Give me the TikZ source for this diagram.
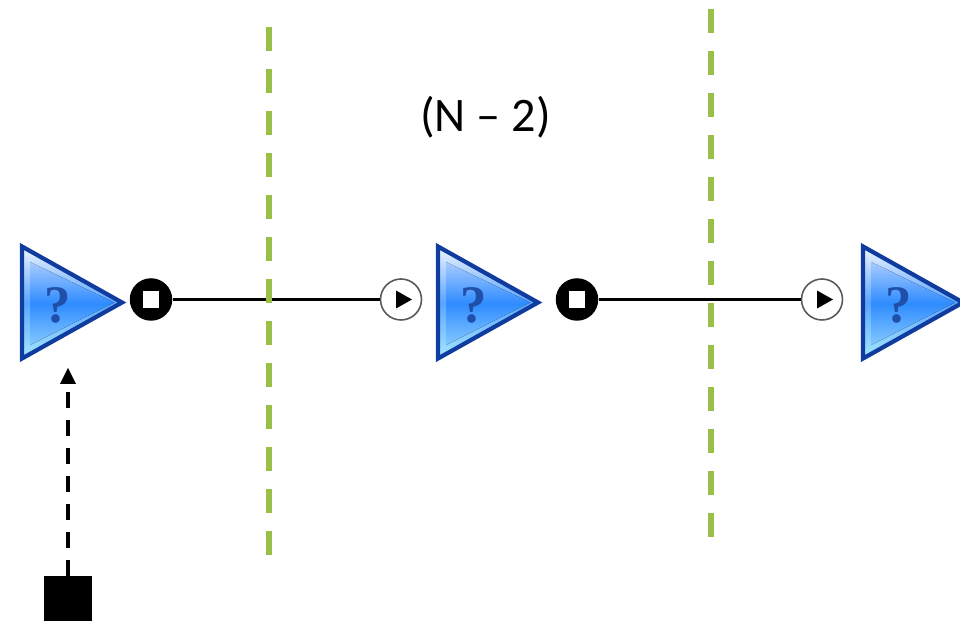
\documentclass[tikz,border=0pt]{standalone}
\usepackage{fontspec}
\setmainfont{Carlito}
\newfontfamily\qfont{Liberation Serif}
\usetikzlibrary{calc}
\definecolor{triedge}{HTML}{0F3C9E}
\definecolor{bandtop}{HTML}{F0F5FF}
\definecolor{bandmid}{HTML}{5AA5FF}
\definecolor{bandbottom}{HTML}{A5E8FF}
\definecolor{tritop}{HTML}{A8CBFF}
\definecolor{trimid}{HTML}{2F8CFF}
\definecolor{tribottom}{HTML}{85C8FF}
\definecolor{qmark}{HTML}{1F4FA8}
\definecolor{barrier}{HTML}{9BC04A}
\tikzset{
	triout/.style={draw=triedge,line width=2.4pt,line join=miter,top color=bandtop,bottom color=bandbottom,middle color=bandmid},
	triin/.style={top color=tritop,bottom color=tribottom,middle color=trimid},
	qlabel/.style={inner sep=0pt,text=qmark,font=\qfont\bfseries\fontsize{30pt}{30pt}\selectfont},
	sendport/.style={circle,fill=black,minimum size=0.85cm,inner sep=0pt},
	sendmark/.style={fill=white,minimum size=0.33cm,inner sep=0pt},
	recvport/.style={circle,draw=black!65,line width=0.9pt,fill=white,minimum size=0.82cm,inner sep=0pt},
	barrierline/.style={barrier,line width=3.4pt,dash pattern=on 0.48cm off 0.36cm},
	wire/.style={line width=2.2pt},
}
\begin{document}
\begin{tikzpicture}
\useasboundingbox (0,0) rectangle (19.2,12.42);
% first block
\begin{scope}[xshift=0.44cm,yshift=5.25cm]
	\coordinate (A1) at (0,2.24);
	\coordinate (B1) at (0,0);
	\coordinate (C1) at (2,1.12);
	\draw[triout] (A1)--(C1)--(B1)--cycle;
	\fill[triin] (0.16,1.93)--(1.84,1.12)--(0.16,0.27)--cycle;
	\node[qlabel] (Q1) at (0.72,1.07) {?};
\end{scope}
% second block
\begin{scope}[xshift=8.76cm,yshift=5.25cm]
	\coordinate (A2) at (0,2.24);
	\coordinate (B2) at (0,0);
	\coordinate (C2) at (2,1.12);
	\draw[triout] (A2)--(C2)--(B2)--cycle;
	\fill[triin] (0.16,1.93)--(1.84,1.12)--(0.16,0.27)--cycle;
	\node[qlabel] (Q2) at (0.72,1.07) {?};
\end{scope}
% third block
\begin{scope}[xshift=17.26cm,yshift=5.25cm]
	\coordinate (A3) at (0,2.24);
	\coordinate (B3) at (0,0);
	\coordinate (C3) at (2,1.12);
	\draw[triout] (A3)--(C3)--(B3)--cycle;
	\fill[triin] (0.16,1.93)--(1.84,1.12)--(0.16,0.27)--cycle;
	\node[qlabel] (Q3) at (0.72,1.07) {?};
\end{scope}
% ports
\node[sendport] (S1) at (3.02,6.43) {};
\node[sendport] (S2) at (11.54,6.43) {};
\node[sendmark] (S1m) at (S1) {};
\node[sendmark] (S2m) at (S2) {};
\node[recvport] (R2) at (8.02,6.43) {};
\node[recvport] (R3) at (16.44,6.43) {};
\fill[black] (R2.center) ++(-0.1,0.18) -- ++(0,-0.36) -- ++(0.32,0.18) -- cycle;
\fill[black] (R3.center) ++(-0.1,0.18) -- ++(0,-0.36) -- ++(0.32,0.18) -- cycle;
\draw[wire] (S1)--(R2);
\draw[wire] (S2)--(R3);
% barriers
\coordinate (T1) at (5.38,11.88);
\coordinate (E1) at (5.38,1.32);
\coordinate (T2) at (14.22,12.24);
\coordinate (E2) at (14.22,1.68);
\draw[barrierline] (T1)--(E1);
\draw[barrierline] (T2)--(E2);
\node (L) at (9.71,10.07) {\fontsize{27.4pt}{27.4pt}\selectfont (N – 2)};
% sender
\node[fill=black,minimum width=0.96cm,minimum height=0.9cm,inner sep=0pt] (M) at (1.36,0.45) {};
\coordinate (P) at (1.36,5.06);
\coordinate (Pd) at (1.36,4.6);
\draw[line width=2.27pt,dash pattern=on 0.32cm off 0.24cm] (M.north)--(Pd);
\fill[black] (P)--(1.2,4.74)--(1.52,4.74)--cycle;
\end{tikzpicture}
\end{document}
